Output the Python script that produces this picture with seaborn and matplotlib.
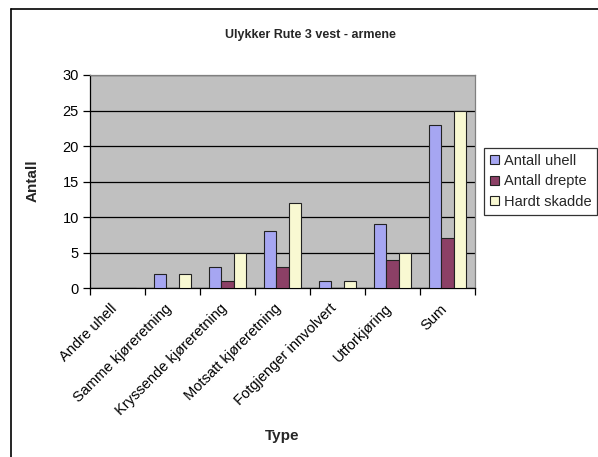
import matplotlib
matplotlib.use("Agg")
import matplotlib.pyplot as plt
from matplotlib.lines import Line2D
from matplotlib.ticker import FixedLocator
from matplotlib.transforms import ScaledTranslation
import seaborn as sns
import pandas as pd

categories = ["Andre uhell", "Samme kjøreretning", "Kryssende kjøreretning",
              "Motsatt kjøreretning", "Fotgjenger innvolvert", "Utforkjøring", "Sum"]
antall_uhell = [0, 2, 3, 8, 1, 9, 23]
antall_drepte = [0, 0, 1, 3, 0, 4, 7]
hardt_skadde = [0, 2, 5, 12, 1, 5, 25]
series_names = ["Antall uhell", "Antall drepte", "Hardt skadde"]
colors = ["#9999FF", "#993366", "#FFFFCC"]

rows = []
for name, vals in zip(series_names, [antall_uhell, antall_drepte, hardt_skadde]):
    for cat, v in zip(categories, vals):
        rows.append({"Type": cat, "Antall": v, "Serie": name})
df = pd.DataFrame(rows)

sns.set_theme(style="white")
plt.rcParams["font.family"] = ["Liberation Sans", "DejaVu Sans"]

W, H = 598, 457
fig = plt.figure(figsize=(W / 100, H / 100), dpi=100)
ax = fig.add_axes([90 / W, 1 - 288 / H, (475 - 90) / W, (288 - 75) / H])
ax.set_facecolor("#C0C0C0")

sns.barplot(data=df, x="Type", y="Antall", hue="Serie", hue_order=series_names,
            order=categories, palette=colors, width=0.67, edgecolor="#222222",
            linewidth=0.8, ax=ax, legend=True, zorder=3)

ax.set_ylim(0, 30)
ax.set_xlim(-0.5, len(categories) - 0.5)
ax.set_yticks(range(0, 31, 5))
ax.yaxis.grid(True, color="black", linewidth=0.9, zorder=1)
ax.set_axisbelow(True)

ax.set_xticks(range(len(categories)))
ax.xaxis.set_minor_locator(FixedLocator([i - 0.5 for i in range(len(categories) + 1)]))
ax.tick_params(axis="x", which="major", length=0, pad=6)
ax.tick_params(axis="x", which="minor", length=5, width=0.9, color="black",
               direction="out", bottom=True)
ax.tick_params(axis="y", length=5, width=0.9, color="black", direction="out",
               left=True, labelsize=10.5, labelcolor="black", pad=3)
ax.set_xticklabels(categories, rotation=45, ha="right", rotation_mode="anchor",
                   fontsize=10.5, color="black")
# nudge the slanted category labels down and to the left
shift = ScaledTranslation(-0.08, -0.05, fig.dpi_scale_trans)
for lbl in ax.get_xticklabels():
    lbl.set_transform(lbl.get_transform() + shift)

for side in ["left", "bottom"]:
    ax.spines[side].set_color("black")
    ax.spines[side].set_linewidth(0.9)
for side in ["top", "right"]:
    ax.spines[side].set_color("#808080")
    ax.spines[side].set_linewidth(0.9)

ax.set_xlabel("")
ax.set_ylabel("")
fig.text(282 / W, 1 - 436 / H, "Type", ha="center", va="center",
         fontsize=11, fontweight="bold")
fig.text(33 / W, 1 - 181 / H, "Antall", ha="center", va="center", rotation=90,
         fontsize=11, fontweight="bold")
fig.text(310 / W, 1 - 35 / H, "Ulykker Rute 3 vest - armene", ha="center",
         va="center", fontsize=9, fontweight="bold")

handles, labels = ax.get_legend_handles_labels()
ax.get_legend().remove()
leg = fig.legend(handles, labels, loc="upper left",
                 bbox_to_anchor=(484 / W, 1 - 148 / H), frameon=True,
                 fancybox=False, edgecolor="black", fontsize=10.5,
                 handlelength=0.6, handleheight=0.6, handletextpad=0.35,
                 labelspacing=0.45, borderpad=0.4, borderaxespad=0)
leg.get_frame().set_linewidth(0.9)

# outer chart border
fig.add_artist(Line2D([11 / W, 11 / W], [0, 1 - 9 / H], transform=fig.transFigure,
                      color="black", linewidth=1.2))
fig.add_artist(Line2D([11 / W, 1], [1 - 9 / H, 1 - 9 / H], transform=fig.transFigure,
                      color="black", linewidth=1.2))

fig.savefig("out.png", dpi=100)
